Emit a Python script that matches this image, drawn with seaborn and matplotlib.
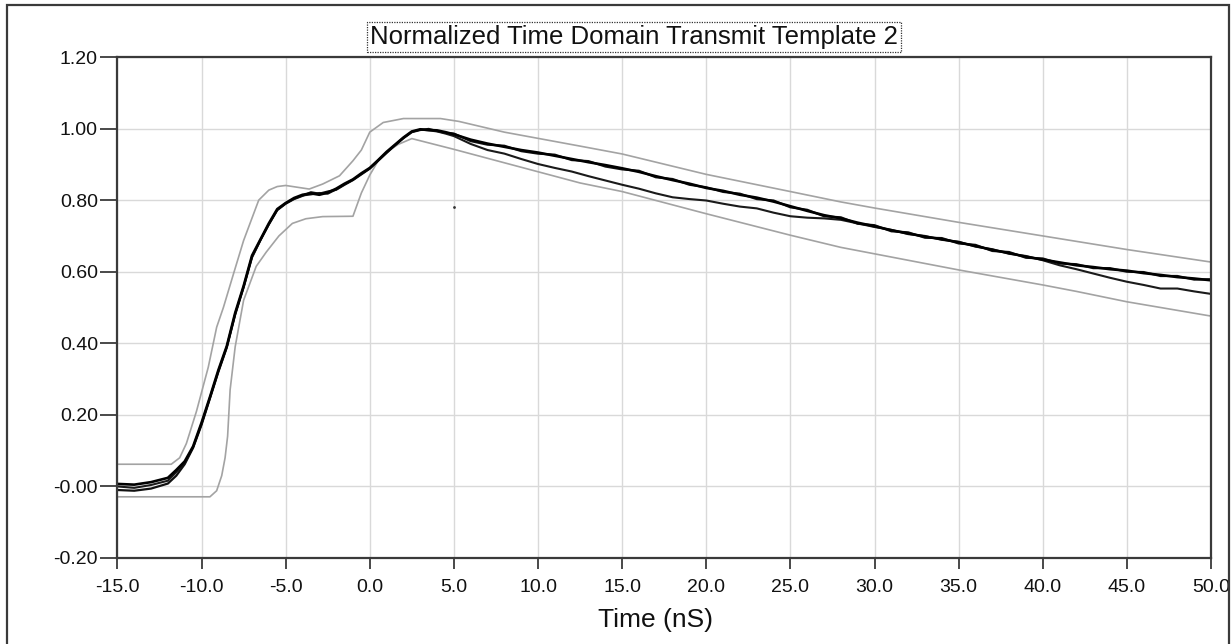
import matplotlib
matplotlib.use("Agg")
import matplotlib.pyplot as plt
import matplotlib.patches as mpatches
import seaborn as sns
import pandas as pd

# ---------------- data ----------------
trace_a_t = [-15, -14, -13, -12, -11.5, -11, -10.5, -10, -9.5, -9, -8.5, -8, -7.5, -7, -6.5, -6,
             -5.5, -5, -4.5, -4, -3.5, -3, -2.5, -2, -1.5, -1, -0.5, 0, 0.5, 1, 1.5, 2, 2.5, 3,
             3.5, 4, 4.5, 5, 6, 7, 8, 9, 10, 11, 12, 13, 14, 15, 16, 17, 18, 19, 20, 21, 22, 23,
             24, 25, 26, 27, 28, 29, 30, 31, 32, 33, 34, 35, 36, 37, 38, 39, 40, 41, 42, 43, 44,
             45, 46, 47, 48, 49, 50]
trace_a_v = [0.007, 0.005, 0.012, 0.024, 0.046, 0.070, 0.112, 0.178, 0.250, 0.325, 0.392, 0.485,
             0.560, 0.645, 0.690, 0.735, 0.775, 0.792, 0.806, 0.815, 0.819, 0.815, 0.821, 0.832,
             0.846, 0.858, 0.875, 0.890, 0.912, 0.935, 0.955, 0.975, 0.992, 0.998, 0.996, 0.995,
             0.990, 0.984, 0.969, 0.958, 0.949, 0.940, 0.933, 0.924, 0.915, 0.906, 0.898, 0.889,
             0.879, 0.867, 0.856, 0.846, 0.834, 0.826, 0.815, 0.807, 0.796, 0.783, 0.770, 0.758,
             0.749, 0.737, 0.727, 0.716, 0.707, 0.698, 0.691, 0.682, 0.672, 0.661, 0.652, 0.642,
             0.634, 0.626, 0.618, 0.613, 0.607, 0.603, 0.596, 0.591, 0.585, 0.581, 0.576]

trace_b_t = [-15, -14, -13, -12, -11.5, -11, -10.5, -10, -9.5, -9, -8.5, -8, -7.5, -7, -6.5, -6,
             -5.5, -5, -4.5, -4, -3.5, -3, -2.5, -2, -1.5, -1, -0.5, 0, 0.5, 1, 1.5, 2, 2.5, 3,
             3.5, 4, 4.5, 5, 6, 7, 8, 9, 10, 11, 12, 13, 14, 15, 16, 17, 18, 19, 20, 21, 22, 23,
             24, 25, 26, 27, 28, 29, 30, 31, 32, 33, 34, 35, 36, 37, 38, 39, 40, 41, 42, 43, 44,
             45, 46, 47, 48, 49, 50]
trace_b_v = [-0.010, -0.012, -0.006, 0.008, 0.030, 0.062, 0.108, 0.172, 0.246, 0.320, 0.388, 0.480,
             0.556, 0.640, 0.688, 0.732, 0.772, 0.790, 0.803, 0.812, 0.822, 0.818, 0.824, 0.829,
             0.843, 0.856, 0.872, 0.888, 0.910, 0.932, 0.953, 0.973, 0.990, 0.996, 0.999, 0.993,
             0.988, 0.986, 0.965, 0.955, 0.952, 0.937, 0.930, 0.927, 0.912, 0.909, 0.894, 0.886,
             0.882, 0.864, 0.859, 0.843, 0.836, 0.823, 0.818, 0.803, 0.799, 0.780, 0.773, 0.755,
             0.752, 0.734, 0.730, 0.713, 0.710, 0.695, 0.694, 0.679, 0.675, 0.658, 0.655, 0.639,
             0.637, 0.623, 0.621, 0.610, 0.610, 0.600, 0.599, 0.588, 0.588, 0.578, 0.579]

trace_c_t = [-15, -14, -13, -12, -11.5, -11, -10.5, -10, -9.5, -9, -8.5, -8, -7.5, -7, -6.5, -6,
             -5.5, -5, -4.5, -4, -3.5, -3, -2.5, -2, -1.5, -1, -0.5, 0, 0.5, 1, 1.5, 2, 2.5, 3,
             3.5, 4, 4.5, 5, 6, 7, 8, 9, 10, 11, 12, 13, 14, 15, 16, 17, 18, 19, 20, 21, 22, 23,
             24, 25, 26, 27, 28, 29, 30, 31, 32, 33, 34, 35, 36, 37, 38, 39, 40, 41, 42, 43, 44,
             45, 46, 47, 48, 49, 50]
trace_c_v = [0.000, -0.004, 0.004, 0.016, 0.040, 0.066, 0.110, 0.175, 0.248, 0.322, 0.390, 0.482,
             0.558, 0.642, 0.689, 0.733, 0.773, 0.791, 0.804, 0.813, 0.816, 0.820, 0.818, 0.830,
             0.844, 0.857, 0.873, 0.889, 0.911, 0.933, 0.954, 0.974, 0.991, 0.997, 0.995, 0.992,
             0.986, 0.979, 0.957, 0.940, 0.930, 0.915, 0.901, 0.890, 0.880, 0.867, 0.855, 0.843,
             0.832, 0.819, 0.808, 0.803, 0.799, 0.790, 0.782, 0.777, 0.765, 0.755, 0.751, 0.749,
             0.745, 0.735, 0.725, 0.717, 0.705, 0.700, 0.689, 0.684, 0.670, 0.663, 0.650, 0.644,
             0.632, 0.618, 0.607, 0.595, 0.583, 0.572, 0.563, 0.553, 0.553, 0.545, 0.538]

upper_mask_t = [-15, -11.8, -11.3, -10.9, -10.3, -9.6, -9.1, -8.7, -8.1, -7.5, -6.6, -6.0, -5.5,
                -5.0, -3.6, -2.8, -1.8, -1.0, -0.5, 0.0, 0.8, 2.0, 4.2, 5.3, 8.0, 12.5, 15, 20,
                25, 28, 30, 35, 40, 45, 50]
upper_mask_v = [0.062, 0.062, 0.080, 0.120, 0.210, 0.333, 0.445, 0.500, 0.594, 0.687, 0.800,
                0.828, 0.838, 0.841, 0.831, 0.845, 0.868, 0.910, 0.940, 0.990, 1.017, 1.028,
                1.028, 1.020, 0.990, 0.951, 0.929, 0.872, 0.824, 0.795, 0.778, 0.738, 0.700,
                0.662, 0.627]

lower_mask_t = [-15, -9.5, -9.1, -8.8, -8.6, -8.45, -8.3, -8.0, -7.5, -6.75, -6.15, -5.4, -4.6,
                -3.8, -2.8, -1.0, -0.5, 0.0, 0.5, 1.0, 1.7, 2.5, 5.0, 12.5, 15, 20, 25, 28, 30,
                35, 40, 42, 45, 50]
lower_mask_v = [-0.029, -0.029, -0.012, 0.030, 0.080, 0.140, 0.270, 0.390, 0.520, 0.615, 0.655,
                0.700, 0.735, 0.748, 0.754, 0.755, 0.820, 0.870, 0.910, 0.935, 0.956, 0.972,
                0.942, 0.848, 0.824, 0.762, 0.702, 0.668, 0.650, 0.605, 0.563, 0.545, 0.516,
                0.476]

stray_t = [5.0]
stray_v = [0.78]

x_ticks = [-15, -10, -5, 0, 5, 10, 15, 20, 25, 30, 35, 40, 45, 50]
x_labels = ["-15.0", "-10.0", "-5.0", "0.0", "5.0", "10.0", "15.0", "20.0", "25.0", "30.0",
            "35.0", "40.0", "45.0", "50.0"]
y_ticks = [-0.2, 0.0, 0.2, 0.4, 0.6, 0.8, 1.0, 1.2]
y_labels = ["-0.20", "-0.00", "0.20", "0.40", "0.60", "0.80", "1.00", "1.20"]

title_text = "Normalized Time Domain Transmit Template 2"
x_label = "Time (nS)"

# ---------------- style ----------------
sns.set_theme(style="white")
plt.rcParams["font.family"] = ["Liberation Sans", "DejaVu Sans"]

fig = plt.figure(figsize=(12.32, 6.44), dpi=100)
ax = fig.add_axes([117.4 / 1232, 1 - 558 / 644, (1211 - 117.4) / 1232, (558 - 57) / 644])

mask_color = "#a3a3a3"
sns.lineplot(x=upper_mask_t, y=upper_mask_v, ax=ax, color=mask_color, lw=1.2, sort=False)
sns.lineplot(x=lower_mask_t, y=lower_mask_v, ax=ax, color=mask_color, lw=1.2, sort=False)
sns.lineplot(x=trace_c_t, y=trace_c_v, ax=ax, color="#1a1a1a", lw=1.5, sort=False)
sns.lineplot(x=trace_b_t, y=trace_b_v, ax=ax, color="#111111", lw=1.6, sort=False)
sns.lineplot(x=trace_a_t, y=trace_a_v, ax=ax, color="#000000", lw=1.9, sort=False)
sns.scatterplot(x=stray_t, y=stray_v, ax=ax, color="#333333", s=4, linewidth=0)

ax.set_xlim(-15, 50)
ax.set_ylim(-0.2, 1.2)
ax.set_xticks(x_ticks)
ax.set_xticklabels(x_labels)
ax.set_yticks(y_ticks)
ax.set_yticklabels(y_labels)
ax.grid(True, color="#d9d9d9", lw=1.0)
ax.set_axisbelow(True)

for s in ax.spines.values():
    s.set_visible(True)
    s.set_color("#3a3a3a")
    s.set_linewidth(1.6)

ax.tick_params(axis="y", direction="out", length=12, width=1.3, color="#3a3a3a",
               labelsize=14, pad=2, labelcolor="#111111", left=True)
ax.tick_params(axis="x", direction="out", length=8, width=1.3, color="#3a3a3a",
               labelsize=14, pad=7, labelcolor="#111111", bottom=True)
ax.set_xlabel(x_label, fontsize=19, color="#111111")
ax.xaxis.set_label_coords((656 - 117.4) / (1211 - 117.4), -(620 - 558) / (558 - 57))
ax.xaxis.label.set_va("center")
ax.set_ylabel("")

fig.text(634 / 1232, 1 - 37 / 644, title_text, ha="center", va="center", fontsize=18.5,
         color="#111111",
         bbox=dict(boxstyle="square,pad=0.12", fc="white", ec="#333333", ls=(0, (1, 1)), lw=0.9))

frame = mpatches.Rectangle((7 / 1232, -0.02), (1229 - 7) / 1232, 1.02 - 5 / 644,
                           transform=fig.transFigure, fill=False, ec="#3a3a3a", lw=1.6)
fig.patches.append(frame)

fig.savefig("out.png", dpi=100)
